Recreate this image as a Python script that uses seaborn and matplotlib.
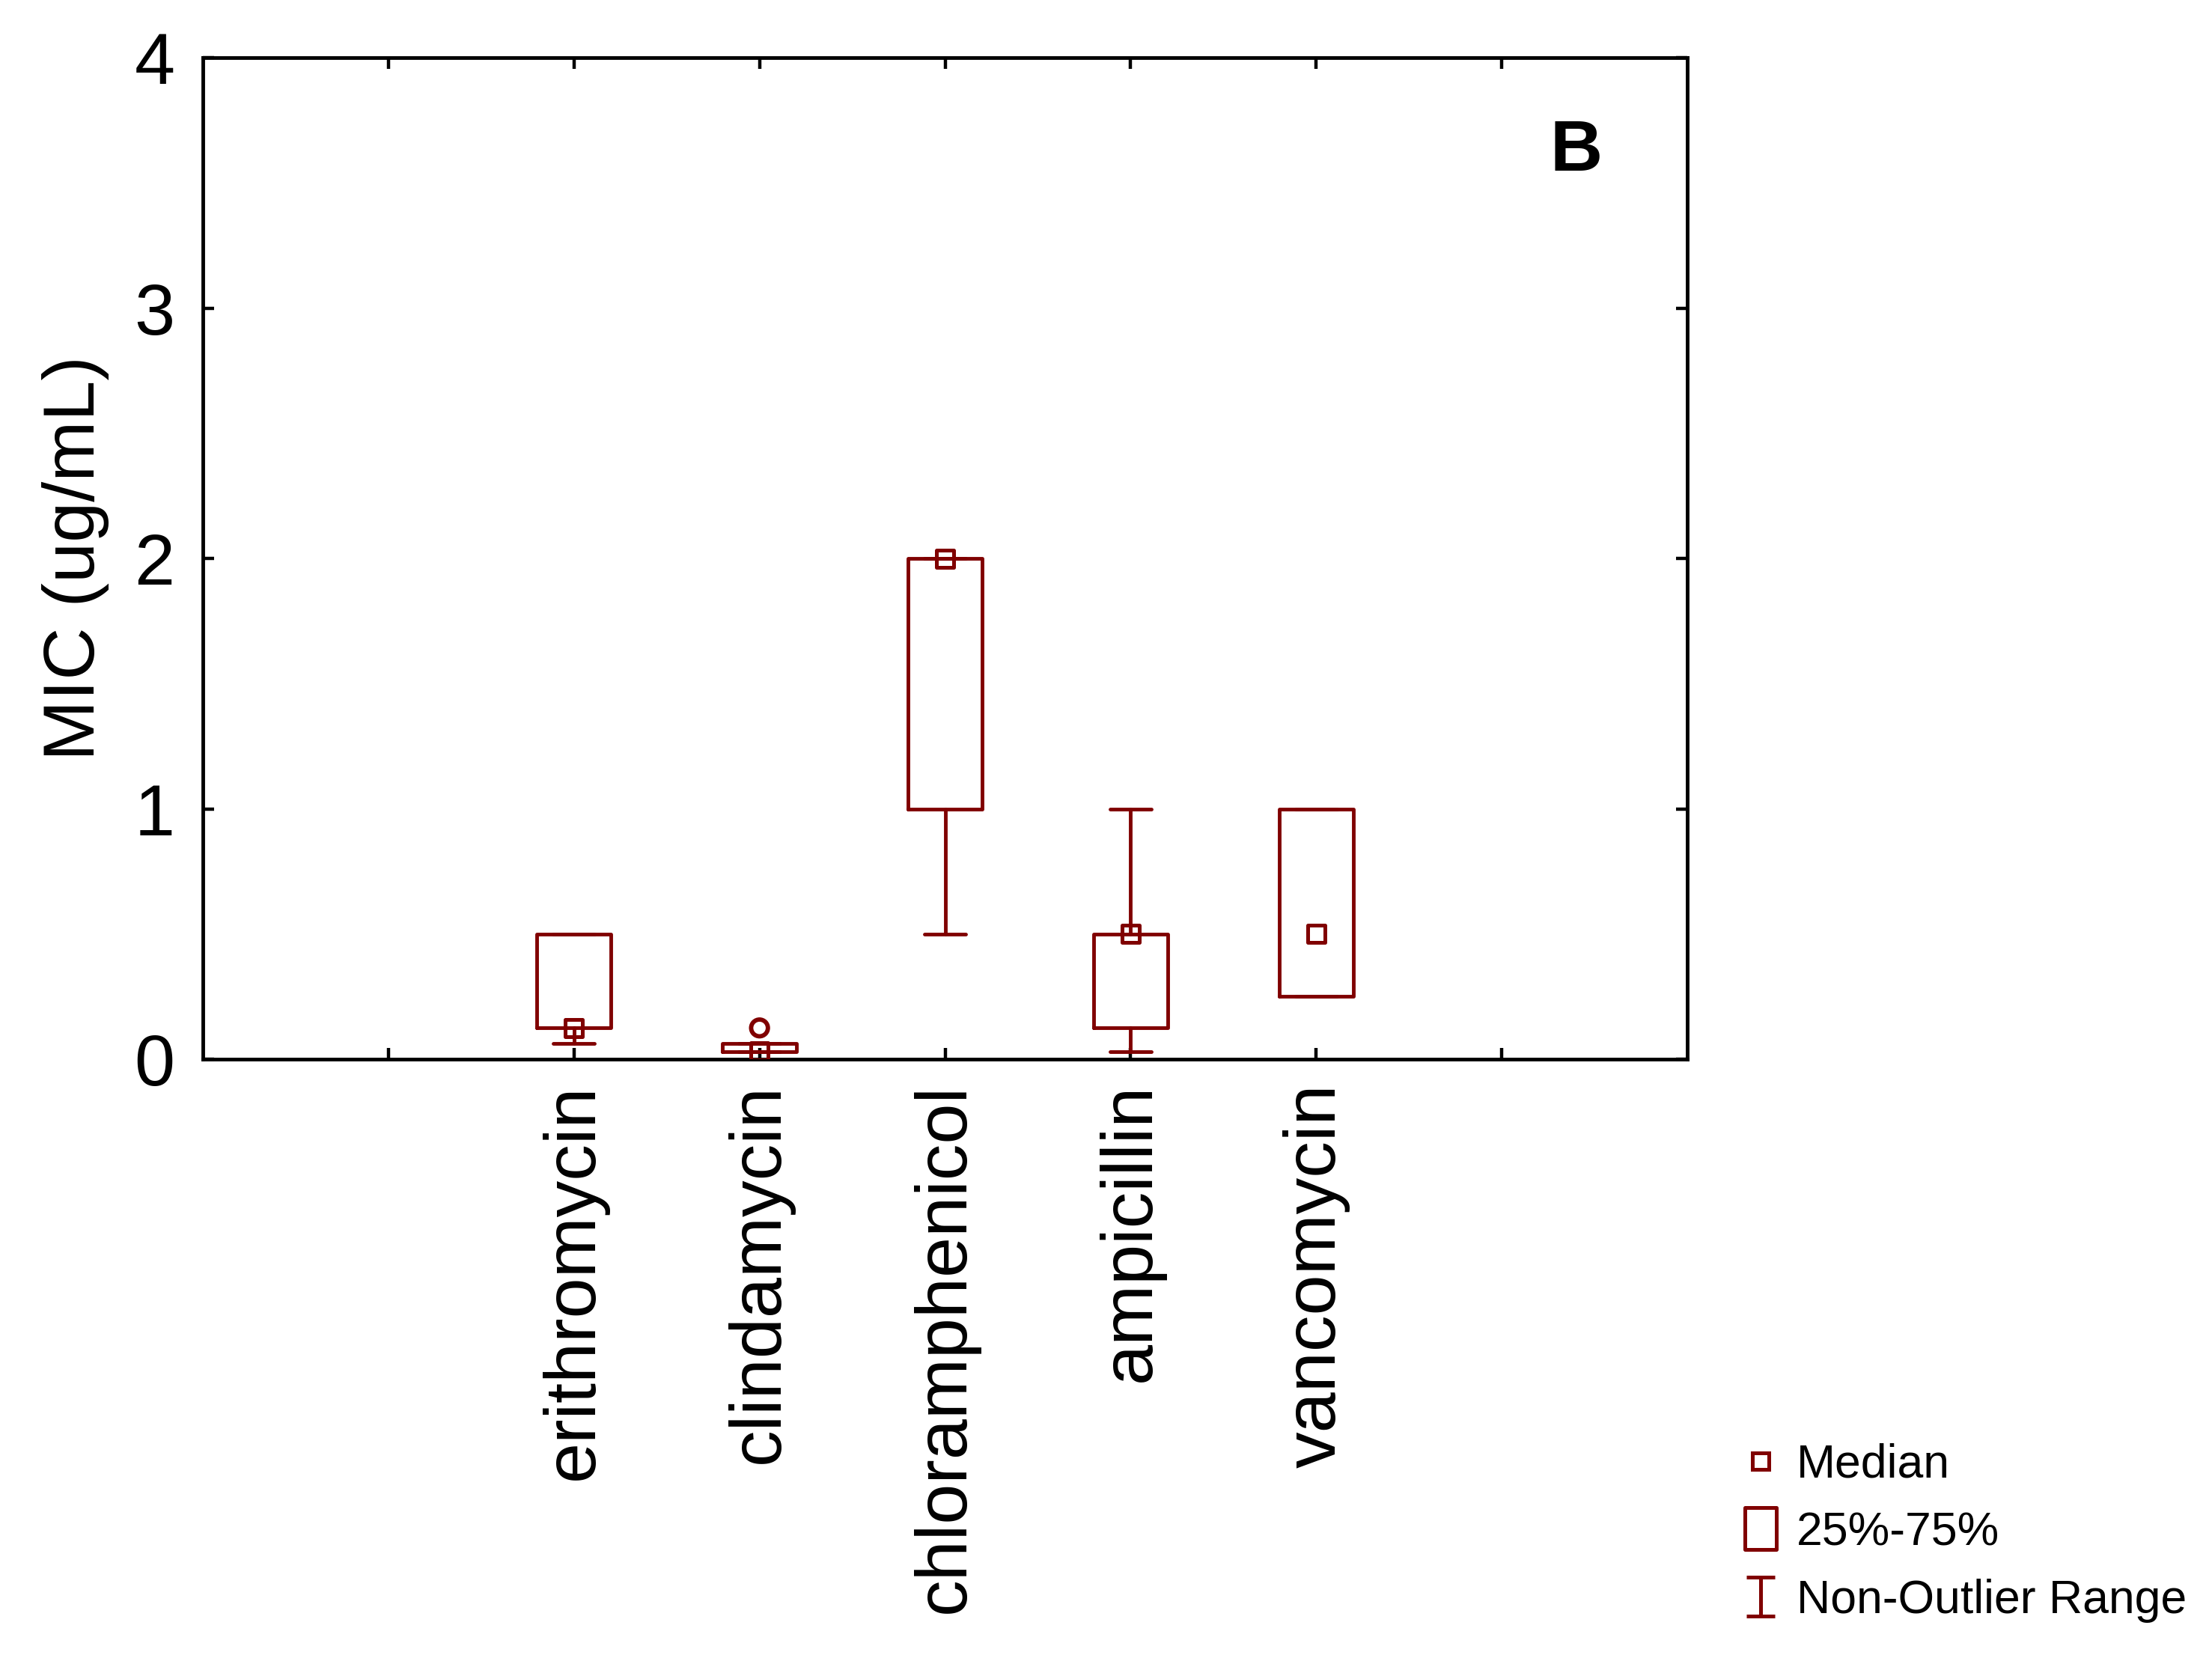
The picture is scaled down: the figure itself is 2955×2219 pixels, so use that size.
import numpy as np
import pandas as pd
import matplotlib
matplotlib.use("Agg")
import matplotlib.pyplot as plt
import seaborn as sns
from matplotlib.lines import Line2D
from matplotlib.path import Path

# ---------------- data ----------------
categories = ["erithromycin", "clindamycin", "chloramphenicol", "ampicillin", "vancomycin"]
medians = [0.125, 0.03125, 2.0, 0.5, 0.5]
q1_values = [0.125, 0.03125, 1.0, 0.125, 0.25]
q3_values = [0.5, 0.0625, 2.0, 0.5, 1.0]
whisker_low = [0.0625, 0.03125, 0.5, 0.03125, 0.25]
whisker_high = [0.5, 0.0625, 2.0, 1.0, 1.0]
outlier_categories = ["clindamycin"]
outlier_values = [0.125]
y_ticks = [0, 1, 2, 3, 4]
legend_labels = ["Median", "25%-75%", "Non-Outlier Range"]

# ---------------- style ----------------
sns.set_theme(style="white")
plt.rcParams["font.family"] = ["Liberation Sans", "DejaVu Sans"]
plt.rcParams["text.color"] = "black"
RED = "#800000"
LW = 3.5

fig = plt.figure(figsize=(29.55, 22.19), dpi=100)
ax = fig.add_axes([0.0917, 0.3623, 0.6711, 0.6030])

positions = np.arange(len(categories))
stats = [
    dict(med=m, q1=a, q3=b, whislo=lo, whishi=hi, fliers=[])
    for m, a, b, lo, hi in zip(medians, q1_values, q3_values, whisker_low, whisker_high)
]
ax.bxp(
    stats, positions=positions, widths=0.40, capwidths=0.22, showfliers=False,
    boxprops=dict(color=RED, linewidth=LW),
    whiskerprops=dict(color=RED, linewidth=LW),
    capprops=dict(color=RED, linewidth=LW),
    medianprops=dict(visible=False),
    manage_ticks=False,
)

med_df = pd.DataFrame({"pos": positions, "median": medians})
sns.scatterplot(data=med_df, x="pos", y="median", marker="s", s=275,
                facecolor="none", edgecolor=RED, linewidth=3.6,
                ax=ax, zorder=5, legend=False)

out_df = pd.DataFrame({
    "pos": [categories.index(c) for c in outlier_categories],
    "value": outlier_values,
})
sns.scatterplot(data=out_df, x="pos", y="value", marker="o", s=260,
                facecolor="none", edgecolor=RED, linewidth=4.2,
                ax=ax, zorder=5, legend=False)

# ---------------- axes ----------------
ax.set_xlim(-2, len(categories) + 1)
ax.set_xticks(np.arange(-1, len(categories) + 1))
ax.set_xticklabels([""] + categories + [""], rotation=90, fontsize=70)
ax.set_ylim(0, 4)
ax.set_yticks(y_ticks)
ax.set_yticklabels([str(t) for t in y_ticks], fontsize=70)
ax.set_xlabel("")
ax.set_ylabel("MIC (ug/mL)", fontsize=70, color="black")
ax.yaxis.set_label_coords(-0.063, 0.5)

ax.tick_params(axis="both", direction="in", length=11, width=3.2,
               top=True, right=True, bottom=True, left=True, colors="black")
ax.tick_params(axis="y", pad=27)
ax.tick_params(axis="x", pad=23)
for sp in ax.spines.values():
    sp.set_visible(True)
    sp.set_color("black")
    sp.set_linewidth(LW)
ax.set_facecolor("white")

ax.text(0.925, 0.906, "B", transform=ax.transAxes, fontsize=70,
        fontweight="bold", ha="center", va="center", color="black")

# ---------------- legend ----------------
rect_path = Path(
    [(-0.74, -1), (0.74, -1), (0.74, 1), (-0.74, 1), (-0.74, -1)],
    [Path.MOVETO, Path.LINETO, Path.LINETO, Path.LINETO, Path.CLOSEPOLY],
)
ibeam_path = Path(
    [(-0.75, 1), (0.75, 1), (0, 1), (0, -1), (-0.75, -1), (0.75, -1)],
    [Path.MOVETO, Path.LINETO, Path.MOVETO, Path.LINETO, Path.MOVETO, Path.LINETO],
)
handles = [
    Line2D([], [], ls="none", marker="s", markersize=16.5, mfc="none", mec=RED, mew=3.6),
    Line2D([], [], ls="none", marker=rect_path, markersize=41, mfc="none", mec=RED, mew=3.6),
    Line2D([], [], ls="none", marker=ibeam_path, markersize=37, mfc="none", mec=RED, mew=3.6),
]
fig.legend(handles, legend_labels, loc="upper left", bbox_to_anchor=(2321 / 2955, 1 - 1928 / 2219),
           frameon=False, prop=dict(family=["Liberation Sans"], size=45), labelcolor="black",
           handlelength=1.0, handletextpad=0.26, labelspacing=0.5, borderpad=0, borderaxespad=0)

fig.savefig("out.png", dpi=100, facecolor="white")
